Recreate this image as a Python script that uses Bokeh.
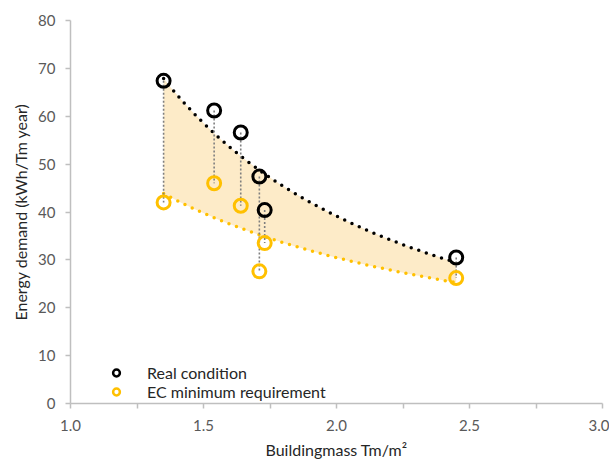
import numpy as np
from bokeh.plotting import figure
from bokeh.models import (ColumnDataSource, FixedTicker, Range1d, Legend, LegendItem,
                          CustomJSTickFormatter)
from bokeh.embed import file_html
from bokeh.resources import INLINE

# ---- data ----
mass = [1.35, 1.54, 1.64, 1.71, 1.73, 2.45]
real_condition = [67.4, 61.2, 56.6, 47.4, 40.4, 30.5]
ec_minimum = [42.0, 46.0, 41.3, 27.6, 33.5, 26.2]
x_ticks = [1.0, 1.5, 2.0, 2.5, 3.0]
x_minor = [1.25, 1.75, 2.25, 2.75]
y_ticks = [0, 10, 20, 30, 40, 50, 60, 70, 80]
series_names = ["Real condition", "EC minimum requirement"]

BLACK = "#000000"
GOLD = "#FFC000"
FILL = "#FDEBC8"
FONT = "Lato"

# power trendlines fitted to the data (as the spreadsheet trendline does)
def power_fit(x, y):
    b, lna = np.polyfit(np.log(x), np.log(y), 1)
    return np.exp(lna), b

a1, b1 = power_fit(np.array(mass), np.array(real_condition))
a2, b2 = power_fit(np.array(mass), np.array(ec_minimum))
xt = np.linspace(min(mass), max(mass), 120)
trend = ColumnDataSource(dict(x=xt, top=a1 * xt ** b1, bot=a2 * xt ** b2))

p = figure(width=609, height=463, output_backend="svg", toolbar_location=None,
           x_range=Range1d(1.0, 3.0), y_range=Range1d(0, 80),
           min_border_left=70, min_border_right=7, min_border_top=20, min_border_bottom=60)
p.outline_line_color = None
p.xgrid.visible = False
p.ygrid.visible = False
p.background_fill_color = "white"
p.border_fill_color = "white"

# shaded band between trendlines
p.varea(x="x", y1="bot", y2="top", source=trend, fill_color=FILL, fill_alpha=1.0)

# trendlines (round dotted)
p.line(x="x", y="top", source=trend, line_color=BLACK, line_width=3.5,
       line_dash="0 8", line_cap="round")
p.line(x="x", y="bot", source=trend, line_color=GOLD, line_width=3.5,
       line_dash="0 8", line_cap="round")

# vertical connectors
p.segment(x0=mass, y0=real_condition, x1=mass, y1=ec_minimum,
          line_color="#7F7F7F", line_width=1.6, line_dash="2 2")

# points
p.scatter(mass, real_condition, marker="circle", size=13, fill_color=None,
          line_color=BLACK, line_width=3)
p.scatter(mass, ec_minimum, marker="circle", size=13, fill_color=None,
          line_color=GOLD, line_width=3)

# legend (small markers)
lr1 = p.scatter([np.nan], [np.nan], marker="circle", size=8, fill_color=None,
                line_color=BLACK, line_width=2.5)
lr2 = p.scatter([np.nan], [np.nan], marker="circle", size=8, fill_color=None,
                line_color=GOLD, line_width=2.5)
legend = Legend(items=[LegendItem(label=series_names[0], renderers=[lr1]),
                       LegendItem(label=series_names[1], renderers=[lr2])],
                location=(36, 2), padding=0, margin=0, spacing=0,
                glyph_width=20, glyph_height=17, label_height=17, label_standoff=21,
                label_text_font=FONT, label_text_font_size="16px",
                label_text_color="#262626", background_fill_alpha=0,
                border_line_color=None)
p.add_layout(legend)

# axes
for ax in (p.xaxis[0], p.yaxis[0]):
    ax.axis_line_color = "#BFBFBF"
    ax.axis_line_width = 1.5
    ax.major_tick_line_color = "#BFBFBF"
    ax.major_tick_line_width = 1.5
    ax.minor_tick_line_color = "#BFBFBF"
    ax.minor_tick_line_width = 1.5
    ax.major_tick_in = 0
    ax.major_tick_out = 5
    ax.minor_tick_in = 0
    ax.major_label_text_font = FONT
    ax.major_label_text_font_size = "15px"
    ax.major_label_text_color = "#595959"
    ax.axis_label_text_font = FONT
    ax.axis_label_text_font_size = "16px"
    ax.axis_label_text_font_style = "normal"
    ax.axis_label_text_color = "#262626"

p.xaxis.ticker = FixedTicker(ticks=x_ticks, minor_ticks=x_minor)
p.xaxis.minor_tick_out = 5
p.xaxis.formatter = CustomJSTickFormatter(code="return tick.toFixed(1);")
p.xaxis.major_label_standoff = 11
p.xaxis.axis_label = "Buildingmass Tm/m\u00b2"
p.xaxis.axis_label_standoff = 6

p.yaxis.ticker = FixedTicker(ticks=y_ticks, minor_ticks=[])
p.yaxis.minor_tick_out = 0
p.yaxis.major_label_standoff = 10
p.yaxis.axis_label = "Energy demand (kWh/Tm year)"
p.yaxis.axis_label_standoff = 5

open("out.html", "w").write(file_html(p, INLINE))
